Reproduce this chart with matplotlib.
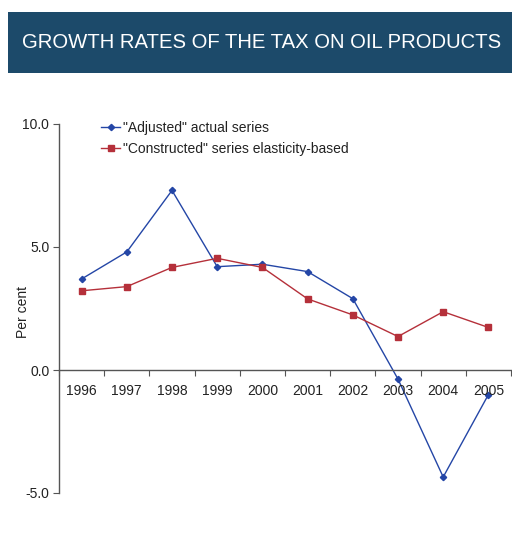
import numpy as np
import matplotlib
matplotlib.use('Agg')
import matplotlib.pyplot as plt
from matplotlib.patches import Rectangle

plt.rcParams['font.family'] = ['Liberation Sans', 'DejaVu Sans']

# growth rates, per cent
years = ['1996', '1997', '1998', '1999', '2000', '2001', '2002', '2003', '2004', '2005']
adjusted = [3.7, 4.8, 7.3, 4.2, 4.3, 4.0, 2.9, -0.37, -4.35, -1.0]
constructed = [3.22, 3.39, 4.17, 4.54, 4.17, 2.89, 2.24, 1.36, 2.37, 1.73]

blue = '#2446a6'
red = '#b5303a'
text_col = '#222222'

fig = plt.figure(figsize=(5.12, 5.48), dpi=100)

# title banner
fig.patches.append(Rectangle((8/512, 1-73/548), 504/512, 61/548, transform=fig.transFigure,
                             facecolor='#1c4a6a', edgecolor='none'))
fig.text(262/512, 1-43/548, 'GROWTH RATES OF THE TAX ON OIL PRODUCTS', color='white',
         fontsize=14.6, ha='center', va='center')

ax = fig.add_axes([59/512, 55/548, 452/512, 369/548])
x = np.arange(len(years))
ax.plot(x, adjusted, color=blue, lw=1.0, marker='D', ms=3.2, mec=blue, mfc=blue,
        label='"Adjusted" actual series')
ax.plot(x, constructed, color=red, lw=1.0, marker='s', ms=4.5, mec=red, mfc=red,
        label='"Constructed" series elasticity-based')

ax.set_xlim(-0.5, 9.5)
ax.set_ylim(-5, 10)
ax.set_yticks([-5, 0, 5, 10])
ax.set_yticklabels(['-5.0', '0.0', '5.0', '10.0'])
ax.set_xticks(np.arange(-0.5, 10, 1), minor=False)
ax.set_xticklabels([])
for i, yr in enumerate(years):
    ax.text(i, -0.85, yr, ha='center', va='center', fontsize=10, color=text_col)

ax.spines['top'].set_visible(False)
ax.spines['right'].set_visible(False)
ax.spines['bottom'].set_position(('data', 0))
for s in ('left', 'bottom'):
    ax.spines[s].set_color('#555555')
    ax.spines[s].set_linewidth(1.0)
ax.tick_params(axis='x', direction='out', length=4, color='#555555')
ax.tick_params(axis='y', direction='out', length=4, color='#555555', labelsize=10,
               labelcolor=text_col, pad=3)

fig.text(23/512, 1-312/548, 'Per cent', rotation=90, ha='center', va='center',
         fontsize=10, color=text_col)

ax.legend(loc='upper left', bbox_to_anchor=(101/512, 1-121/548), bbox_transform=fig.transFigure,
          frameon=False, fontsize=10, handlelength=1.4, handletextpad=0.2, labelspacing=0.5,
          borderaxespad=0, borderpad=0, labelcolor=text_col)

fig.savefig('out.png', dpi=100)
